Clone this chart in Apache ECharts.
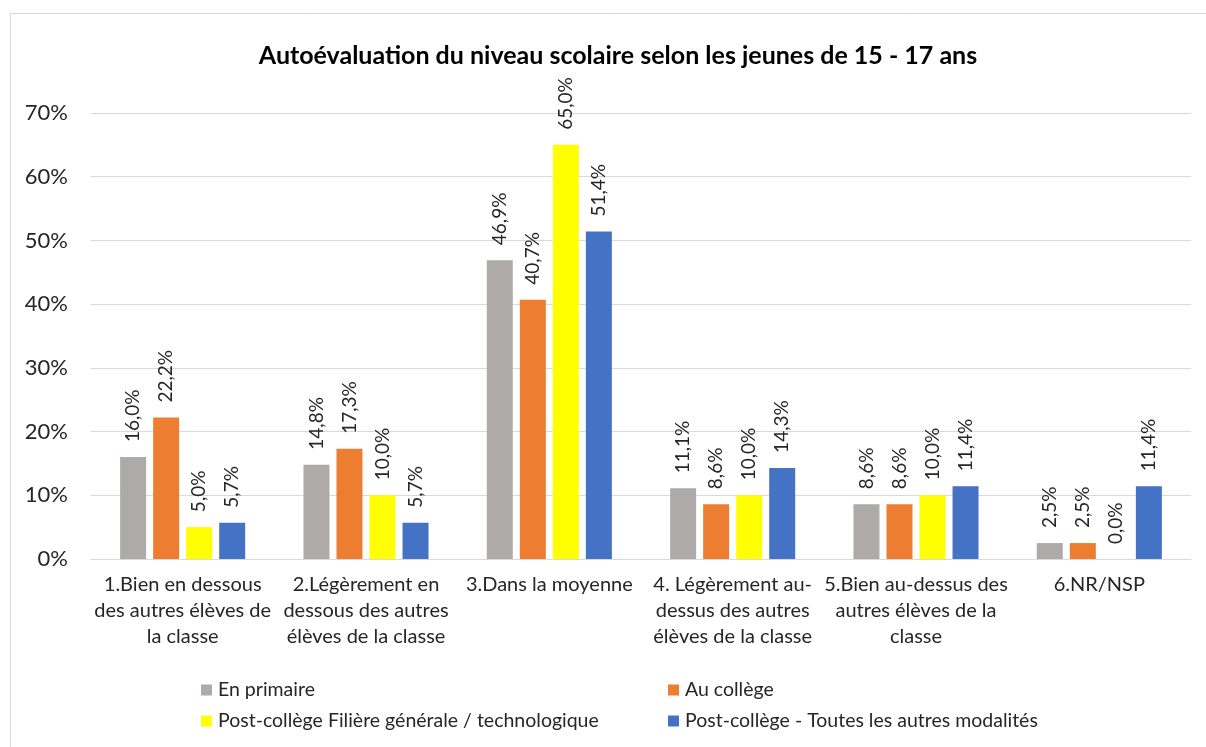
<!DOCTYPE html>
<html>
<head>
<meta charset="utf-8">
<script src="https://cdn.jsdelivr.net/npm/echarts@6/dist/echarts.min.js"></script>
<style>
  html, body { margin: 0; padding: 0; background: #fff; }
  #chart { width: 1206px; height: 747px; }
</style>
</head>
<body>
<div id="chart"></div>
<script>
// Response categories (x axis)
const categories = [
  "1.Bien en dessous\ndes autres élèves de\nla classe",
  "2.Légèrement en\ndessous des autres\nélèves de la classe",
  "3.Dans la moyenne",
  "4. Légèrement au-\ndessus des autres\nélèves de la classe",
  "5.Bien au-dessus des\nautres élèves de la\nclasse",
  "6.NR/NSP"
];

// Share of answers (%) by school level
const enPrimaire   = [16.0, 14.8, 46.9, 11.1, 8.6, 2.5];
const auCollege    = [22.2, 17.3, 40.7, 8.6, 8.6, 2.5];
const postGenerale = [5.0, 10.0, 65.0, 10.0, 10.0, 0.0];
const postAutres   = [5.7, 5.7, 51.4, 14.3, 11.4, 11.4];

const seriesNames = [
  "En primaire",
  "Au collège",
  "Post-collège Filière générale / technologique",
  "Post-collège - Toutes les autres modalités"
];
const seriesColors = ["#AEAAAA", "#ED7D31", "#FFFF00", "#4472C4"];
const seriesData = [enPrimaire, auCollege, postGenerale, postAutres];

const FONT = "Lato, 'Liberation Sans', sans-serif";
const TEXT = "#262626";

const chart = echarts.init(document.getElementById("chart"), null, { renderer: "canvas" });

const series = seriesData.map((d, i) => ({
  name: seriesNames[i],
  type: "bar",
  data: d,
  barWidth: 26,
  barGap: "27%",
  itemStyle: { color: seriesColors[i] },
  label: {
    show: true,
    position: "top",
    rotate: 90,
    align: "left",
    verticalAlign: "middle",
    distance: 15,
    fontFamily: FONT,
    fontSize: 19,
    color: TEXT,
    formatter: p => p.value.toFixed(1).replace(".", ",") + "%"
  }
}));

const legendText = { fontFamily: FONT, fontSize: 19.5, color: TEXT, lineHeight: 20, padding: [0, 0, 0, 1] };

chart.setOption({
  backgroundColor: "#fff",
  animation: false,
  graphic: [{
    type: "rect",
    shape: { x: 10.5, y: 13.5, width: 1210, height: 760 },
    style: { fill: "none", stroke: "#d9d9d9", lineWidth: 1 },
    silent: true,
    z: -1
  }],
  title: {
    text: "Autoévaluation du niveau scolaire selon les jeunes de 15 - 17 ans",
    left: 613,
    top: 38,
    textAlign: "center",
    textStyle: { fontFamily: FONT, fontSize: 25, fontWeight: "bold", color: "#000" }
  },
  grid: { left: 91, right: 15, top: 113, bottom: 188, containLabel: false },
  xAxis: {
    type: "category",
    data: categories,
    axisLine: { show: true, lineStyle: { color: "#d9d9d9", width: 1 } },
    axisTick: { show: false },
    axisLabel: {
      interval: 0,
      margin: 13,
      fontFamily: FONT,
      fontSize: 20,
      lineHeight: 26,
      color: TEXT,
      align: "center"
    }
  },
  yAxis: {
    type: "value",
    min: 0,
    max: 70,
    interval: 10,
    axisLine: { show: false },
    axisTick: { show: false },
    splitLine: { lineStyle: { color: "#d9d9d9", width: 1 } },
    axisLabel: {
      margin: 23,
      fontFamily: FONT,
      fontSize: 22,
      color: TEXT,
      formatter: v => v + "%"
    }
  },
  legend: [
    {
      data: [seriesNames[0], seriesNames[2]],
      orient: "vertical",
      left: 196,
      top: 675,
      itemWidth: 11,
      itemHeight: 11,
      itemGap: 11,
      icon: "rect",
      textStyle: legendText
    },
    {
      data: [seriesNames[1], seriesNames[3]],
      orient: "vertical",
      left: 663,
      top: 675,
      itemWidth: 11,
      itemHeight: 11,
      itemGap: 11,
      icon: "rect",
      textStyle: legendText
    }
  ],
  series: series
});
</script>
</body>
</html>
